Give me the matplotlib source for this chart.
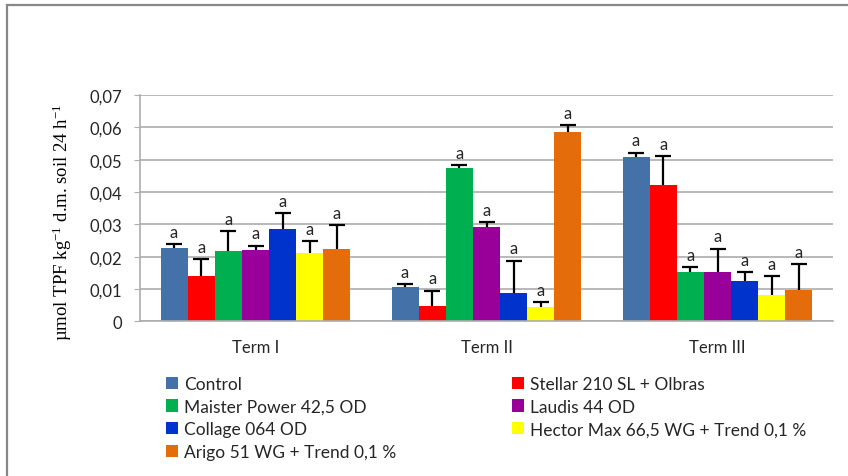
import matplotlib
matplotlib.use("Agg")
import matplotlib.pyplot as plt
from matplotlib.patches import Rectangle
import numpy as np

plt.rcParams["font.family"] = ["Lato", "DejaVu Sans"]
plt.rcParams["mathtext.fontset"] = "custom"
plt.rcParams["mathtext.rm"] = "Liberation Serif"
plt.rcParams["mathtext.it"] = "Liberation Serif:italic"

terms = ["Term I", "Term II", "Term III"]
treatments = [
    "Control",
    "Stellar 210 SL + Olbras",
    "Maister Power 42,5 OD",
    "Laudis 44 OD",
    "Collage 064 OD",
    "Hector Max 66,5 WG + Trend 0,1 %",
    "Arigo 51 WG + Trend 0,1 %",
]
colors = ["#4472A8", "#FF0000", "#00B050", "#990099", "#0033CC", "#FFFF00", "#E46C0A"]

# mean dehydrogenase activity per treatment, one list per term
term1 = [0.0227, 0.0141, 0.0218, 0.0221, 0.0287, 0.0211, 0.0224]
term2 = [0.0105, 0.0047, 0.0474, 0.0291, 0.0088, 0.0044, 0.0585]
term3 = [0.0507, 0.0423, 0.0152, 0.0152, 0.0125, 0.0080, 0.0098]
# standard deviations
err1 = [0.0012, 0.0051, 0.0062, 0.0013, 0.0049, 0.0038, 0.0073]
err2 = [0.0011, 0.0048, 0.0010, 0.0017, 0.0100, 0.0015, 0.0022]
err3 = [0.0015, 0.0088, 0.0015, 0.0073, 0.0026, 0.0059, 0.0080]
# homogeneous groups
groups = ["a"] * 7

values = np.array([term1, term2, term3])
errors = np.array([err1, err2, err3])

W, H = 848, 477
fig = plt.figure(figsize=(W / 100, H / 100), dpi=100)
fig.patch.set_facecolor("white")

# outer chart-area frame (left and top edges visible)
fig.add_artist(Rectangle((7 / W, -0.1), 1.2, 1 - 6 / H + 0.1, transform=fig.transFigure,
                         fill=False, edgecolor="#878787", linewidth=1.6))

ax = fig.add_axes([140 / W, 1 - 322.3 / H, 693 / W, 226.3 / H])
x = np.arange(len(terms))
n = len(treatments)
group_w = 0.822
bw = group_w / n
text_col = "#262626"

bars = []
for i in range(n):
    pos = x - group_w / 2 + bw * (i + 0.5)
    b = ax.bar(pos, values[:, i], width=bw, color=colors[i], label=treatments[i], zorder=2)
    bars.append(b)
    eb = ax.errorbar(pos, values[:, i], yerr=[np.zeros(3), errors[:, i]], fmt="none",
                     ecolor="black", elinewidth=1.6, capsize=6, capthick=1.6, zorder=3)
    # plus-only error bars: hide the cap sitting on the bar top
    eb.lines[1][0].set_visible(False)
    for j in range(3):
        ax.annotate(groups[i], (pos[j], values[j, i] + errors[j, i]), xytext=(0, 3),
                    textcoords="offset points", ha="center", va="bottom",
                    fontsize=12, color=text_col)

ax.set_xlim(-0.5, 2.5)
ax.set_ylim(0, 0.07)
yt = np.arange(0, 0.0701, 0.01)
ax.set_yticks(yt)
ax.set_yticklabels(["0"] + [f"{v:.2f}".replace(".", ",") for v in yt[1:]])
ax.set_xticks(x)
ax.set_xticklabels(terms)
ax.yaxis.grid(True, color="#ADADAD", linewidth=1.2, zorder=0)
ax.set_axisbelow(True)
for s in ["top", "right"]:
    ax.spines[s].set_visible(False)
ax.spines["left"].set_color("#ADADAD")
ax.spines["bottom"].set_color("#ADADAD")
ax.spines["left"].set_linewidth(1.2)
ax.spines["bottom"].set_linewidth(1.2)
ax.tick_params(axis="y", length=4, color="#ADADAD", labelsize=12, labelcolor=text_col, pad=9)
ax.tick_params(axis="x", length=0, labelsize=12, labelcolor=text_col, pad=13)

ax.set_ylabel("µmol TPF kg$^{-1}$ d.m. soil 24 h$^{-1}$", family="Liberation Serif",
              fontsize=13.5, color="black")
ax.yaxis.set_label_coords(74 / W, 1 - 222 / H, transform=fig.transFigure)

leg_kw = dict(frameon=False, fontsize=12.5, handlelength=0.7, handleheight=0.7,
              handletextpad=0.35, labelspacing=0.38, borderaxespad=0, borderpad=0,
              labelcolor=text_col)
col1 = [0, 2, 4, 6]
col2 = [1, 3, 5]
fig.legend([bars[i] for i in col1], [treatments[i] for i in col1],
           loc="upper left", bbox_to_anchor=(166 / W, 1 - 377 / H), **leg_kw)
fig.legend([bars[i] for i in col2], [treatments[i] for i in col2],
           loc="upper left", bbox_to_anchor=(512 / W, 1 - 377 / H), **leg_kw)

fig.savefig("out.png", dpi=100, facecolor="white")
